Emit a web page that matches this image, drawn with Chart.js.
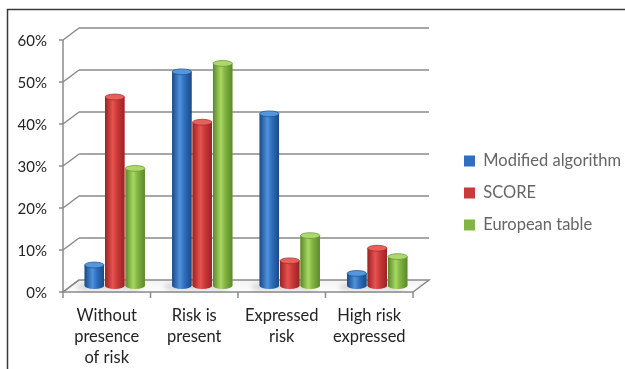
<!DOCTYPE html>
<html>
<head>
<meta charset="utf-8">
<script src="https://cdn.jsdelivr.net/npm/chart.js@4.4.1/dist/chart.umd.min.js"></script>
<style>
  html, body { margin: 0; padding: 0; background: #ffffff; }
  #wrap { width: 625px; height: 369px; }
</style>
</head>
<body>
<div id="wrap"><canvas id="chart" width="625" height="369"></canvas></div>
<script>
// Risk categories (multi-line axis labels)
const categories = [
  ['Without', 'presence', 'of risk'],
  ['Risk is', 'present'],
  ['Expressed', 'risk'],
  ['High risk', 'expressed']
];

// Series names and shares in percent
const seriesNames = ['Modified algorithm', 'SCORE', 'European table'];
const modifiedAlgorithm = [5, 51, 41, 3];
const score = [45, 39, 6, 9];
const europeanTable = [28, 53, 12, 7];

// Value axis ticks
const yTickValues = [0, 10, 20, 30, 40, 50, 60];

// Cylinder shading per series
const palette = [
  { flat: '#2f6fbf', dark: '#1a4a88', light: '#4f93dc', top: '#5597dc', edge: '#1d4f8f' },
  { flat: '#c93a3a', dark: '#9c2225', light: '#e8534f', top: '#e8605c', edge: '#a3282a' },
  { flat: '#82b543', dark: '#5a8827', light: '#a8d862', top: '#acd96c', edge: '#63902e' }
];

// Half-depth offset of the 3D box (front plane vs. back wall)
const DX = 8, DY = 6;
const FAMILY = 'Lato, "Open Sans", sans-serif';
const TEXT = '#242424';
const FRAME = '#8a8a8a';

const framePlugin = {
  id: 'frame3d',
  beforeDraw(chart) {
    const { ctx, width, height } = chart;
    ctx.save();
    ctx.fillStyle = '#ffffff';
    ctx.fillRect(0, 0, width, height);
    // outer border (top and left edges)
    ctx.strokeStyle = '#3a3a3a';
    ctx.lineWidth = 1.5;
    ctx.beginPath();
    ctx.moveTo(7.5, height);
    ctx.lineTo(7.5, 9.5);
    ctx.lineTo(width, 9.5);
    ctx.stroke();
    ctx.restore();
  },
  beforeDatasetsDraw(chart) {
    const { ctx, chartArea: a, scales: { x, y } } = chart;
    const L = a.left, R = a.right;
    const y0 = y.getPixelForValue(0);
    ctx.save();

    // floor
    ctx.beginPath();
    ctx.moveTo(L - DX, y0 + DY);
    ctx.lineTo(R - DX, y0 + DY);
    ctx.lineTo(R + DX, y0 - DY);
    ctx.lineTo(L + DX, y0 - DY);
    ctx.closePath();
    const fg = ctx.createLinearGradient(0, y0 - DY, 0, y0 + DY);
    fg.addColorStop(0, '#f3f3f3');
    fg.addColorStop(1, '#fdfdfd');
    ctx.fillStyle = fg;
    ctx.fill();
    ctx.strokeStyle = FRAME;
    ctx.lineWidth = 1.5;
    ctx.stroke();

    // back wall gridlines, left wall diagonals, front tick marks
    ctx.beginPath();
    y.ticks.forEach(t => {
      const py = y.getPixelForValue(t.value);
      if (t.value > 0) {
        ctx.moveTo(L + DX, py - DY);
        ctx.lineTo(R + DX, py - DY);
      }
      ctx.moveTo(L - DX, py + DY);
      ctx.lineTo(L + DX, py - DY);
      ctx.moveTo(L - DX - 4, py + DY);
      ctx.lineTo(L - DX, py + DY);
    });
    // front value axis
    ctx.moveTo(L - DX, y.getPixelForValue(y.max) + DY);
    ctx.lineTo(L - DX, y0 + DY);
    // category boundary ticks under the floor
    for (let i = 0; i <= categories.length; i++) {
      const px = x.getPixelForValue(i - 0.5) - DX;
      ctx.moveTo(px, y0 + DY);
      ctx.lineTo(px, y0 + DY + 6);
    }
    ctx.stroke();

    // soft shadows cast on the floor
    ctx.filter = 'blur(2.5px)';
    ctx.fillStyle = 'rgba(0,0,0,0.14)';
    chart.data.datasets.forEach((ds, i) => {
      chart.getDatasetMeta(i).data.forEach(el => {
        const { x: cx, base, width } = el.getProps(['x', 'base', 'width'], true);
        ctx.beginPath();
        ctx.ellipse(cx - 6, base + 1, width * 0.62, 3.5, 0, 0, Math.PI * 2);
        ctx.fill();
      });
    });
    ctx.filter = 'none';
    ctx.restore();
  },
  afterDatasetsDraw(chart) {
    const { ctx } = chart;
    ctx.save();
    chart.data.datasets.forEach((ds, i) => {
      const p = palette[i];
      chart.getDatasetMeta(i).data.forEach(el => {
        const { x: cx, y: top, base, width } = el.getProps(['x', 'y', 'base', 'width'], true);
        const l = cx - width / 2, r = cx + width / 2, ry = width * 0.15;
        const g = ctx.createLinearGradient(l, 0, r, 0);
        g.addColorStop(0, p.dark);
        g.addColorStop(0.4, p.light);
        g.addColorStop(0.62, p.flat);
        g.addColorStop(1, p.dark);
        ctx.fillStyle = g;
        // body and rounded bottom
        ctx.fillRect(l, top, width, base - top);
        ctx.beginPath();
        ctx.ellipse(cx, base, width / 2, ry, 0, 0, Math.PI);
        ctx.fill();
        // top cap
        ctx.beginPath();
        ctx.ellipse(cx, top, width / 2, ry, 0, 0, Math.PI * 2);
        ctx.fillStyle = p.top;
        ctx.fill();
        ctx.strokeStyle = p.edge;
        ctx.lineWidth = 0.7;
        ctx.stroke();
      });
    });
    ctx.restore();
  }
};

const seriesValues = [modifiedAlgorithm, score, europeanTable];

new Chart(document.getElementById('chart'), {
  type: 'bar',
  data: {
    labels: categories,
    datasets: seriesNames.map((name, i) => ({
      label: name,
      data: seriesValues[i],
      backgroundColor: palette[i].flat,
      borderWidth: 0,
      categoryPercentage: 0.7,
      barPercentage: 0.95
    }))
  },
  options: {
    responsive: false,
    animation: false,
    devicePixelRatio: 1,
    layout: { padding: { top: 34, bottom: 0, left: 0, right: 0 } },
    plugins: {
      tooltip: { enabled: false },
      legend: {
        position: 'right',
        align: 'center',
        fullSize: false,
        maxWidth: 176.5,
        title: { display: true, text: '', font: { size: 10, lineHeight: 1 }, padding: { top: 56, bottom: 0 } },
        labels: {
          boxWidth: 11,
          boxHeight: 11,
          padding: 15.5,
          color: TEXT,
          font: { family: FAMILY, size: 16.5 },
          generateLabels: chart => chart.data.datasets.map((ds, i) => ({
            text: ds.label,
            fillStyle: palette[i].flat,
            strokeStyle: palette[i].flat,
            lineWidth: 0,
            hidden: false,
            datasetIndex: i
          }))
        }
      }
    },
    scales: {
      x: {
        type: 'category',
        offset: true,
        grid: { display: false, drawTicks: false },
        border: { display: false },
        ticks: {
          color: TEXT,
          font: { family: FAMILY, size: 16.5, lineHeight: 21 / 16.5 },
          padding: 19.5,
          labelOffset: -DX,
          maxRotation: 0,
          autoSkip: false
        },
        afterFit(s) { s.height = 83; }
      },
      y: {
        min: yTickValues[0],
        max: yTickValues[yTickValues.length - 1],
        afterBuildTicks(s) { s.ticks = yTickValues.map(v => ({ value: v })); },
        grid: { display: false, drawTicks: false },
        border: { display: false },
        ticks: {
          color: TEXT,
          font: { family: FAMILY, size: 15 },
          padding: 24,
          labelOffset: 7,
          callback: v => v + '%'
        },
        afterFit(s) { s.width = 71; }
      },
      yRight: {
        position: 'right',
        display: true,
        grid: { display: false, drawTicks: false },
        border: { display: false },
        ticks: { display: false },
        afterFit(s) { s.width = 27.5; }
      }
    }
  },
  plugins: [framePlugin]
});
</script>
</body>
</html>
